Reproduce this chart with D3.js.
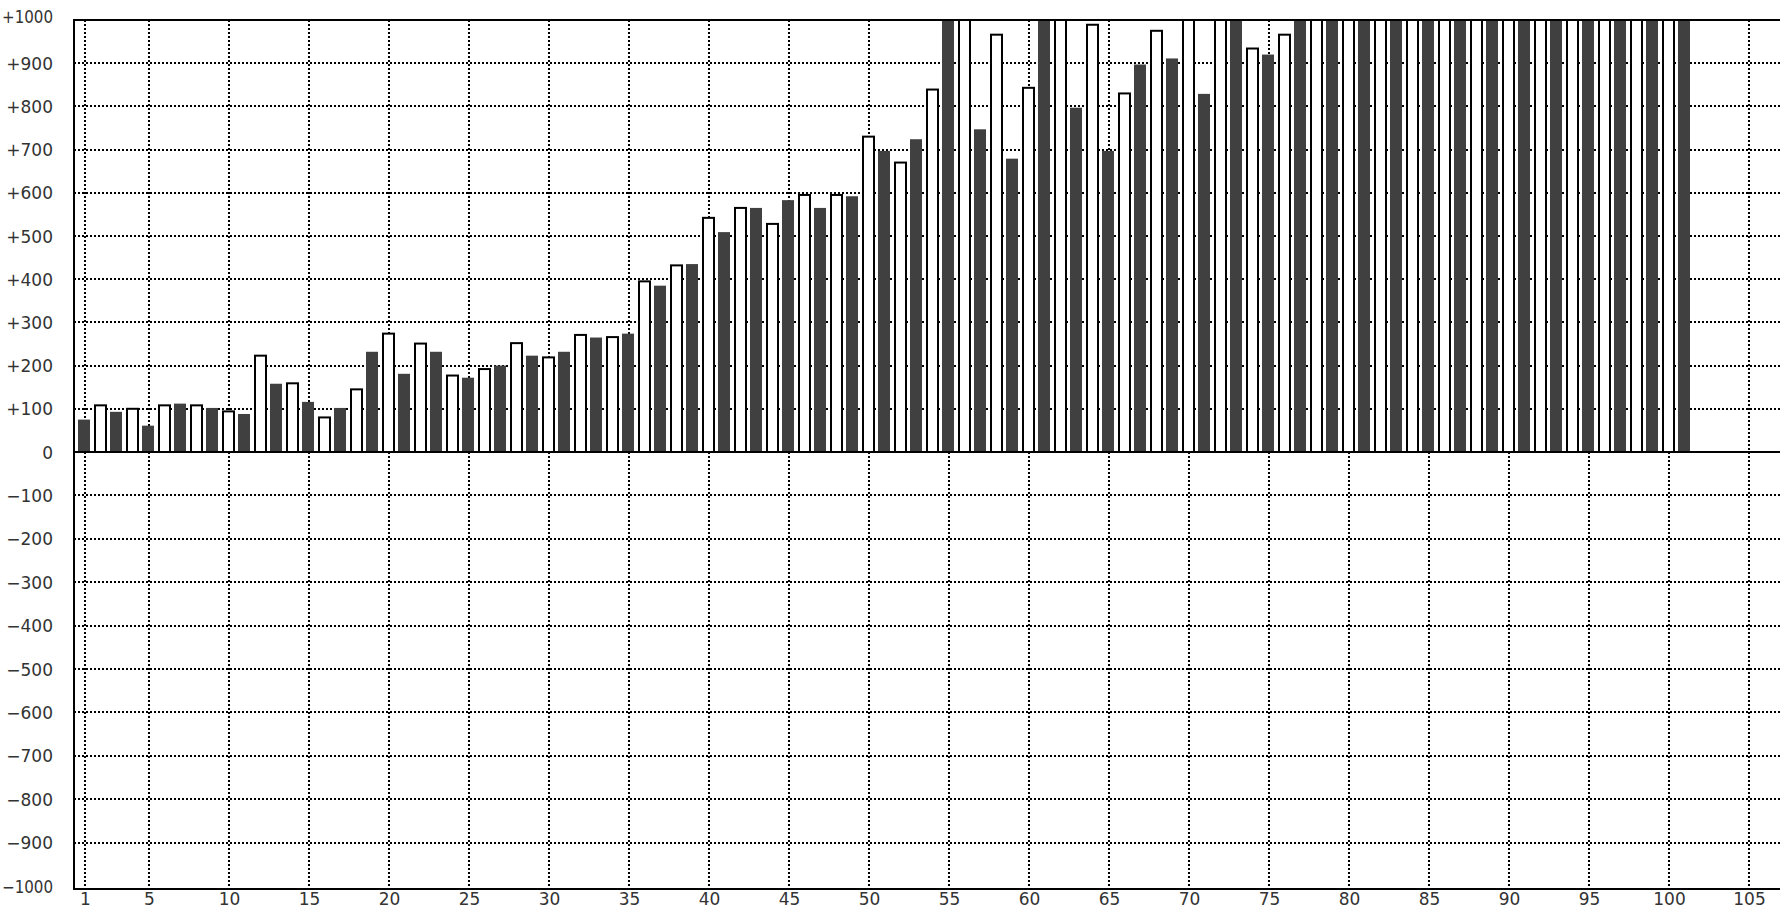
<!DOCTYPE html>
<html>
<head>
<meta charset="utf-8">
<script src="https://cdn.jsdelivr.net/npm/d3@7"></script>
<style>
  html, body { margin: 0; padding: 0; background: #ffffff; }
  svg { display: block; }
</style>
</head>
<body>
<svg id="chart" width="1780" height="908"></svg>
<script>
// ---- data ----
const categories = d3.range(1, 102);
const values = [
  75, 108, 93, 100, 61, 108, 112, 108, 102, 94,
  88, 223, 158, 159, 116, 80, 102, 145, 232, 274,
  181, 251, 232, 177, 172, 192, 200, 252, 223, 219,
  232, 271, 265, 266, 274, 395, 385, 432, 435, 542,
  509, 565, 565, 528, 583, 595, 565, 595, 592, 730,
  697, 670, 724, 839, 1000, 1000, 747, 966, 679, 843,
  1000, 1000, 797, 989, 697, 830, 897, 975, 911, 1000,
  829, 1000, 1000, 934, 920, 966, 1000, 1000, 1000, 1000,
  1000, 1000, 1000, 1000, 1000, 1000, 1000, 1000, 1000, 1000,
  1000, 1000, 1000, 1000, 1000, 1000, 1000, 1000, 1000, 1000,
  1000
];
const xTickValues = [1, 5, 10, 15, 20, 25, 30, 35, 40, 45, 50, 55, 60, 65, 70, 75, 80, 85, 90, 95, 100, 105];
const yTickValues = [1000, 900, 800, 700, 600, 500, 400, 300, 200, 100, 0, -100, -200, -300, -400, -500, -600, -700, -800, -900, -1000];
const yGridValues = [900, 800, 700, 600, 500, 400, 300, 200, 100, -100, -200, -300, -400, -500, -600, -700, -800, -900];

// ---- layout ----
const W = 1780, H = 908;
const plotLeft = 74, plotTop = 20, plotBottom = 889;
const svg = d3.select("#chart");
svg.append("rect").attr("width", W).attr("height", H).attr("fill", "#fff");

const x = d3.scaleLinear().domain([1, 105]).range([85, 85 + 104 * 16]);
const y = d3.scaleLinear().domain([-1000, 0, 1000]).range([886, 452, plotTop]);

svg.append("defs").append("clipPath").attr("id", "plotclip")
  .append("rect").attr("x", plotLeft).attr("y", plotTop).attr("width", W - plotLeft).attr("height", plotBottom - plotTop);

const plot = svg.append("g").attr("clip-path", "url(#plotclip)");

// grid
plot.append("g").selectAll("line.h").data(yGridValues).join("line")
  .attr("x1", plotLeft).attr("x2", W)
  .attr("y1", d => Math.round(y(d))).attr("y2", d => Math.round(y(d)))
  .attr("stroke", "#000").attr("stroke-width", 2).attr("stroke-dasharray", "2,2");
plot.append("g").selectAll("line.v").data(xTickValues).join("line")
  .attr("x1", d => x(d)).attr("x2", d => x(d))
  .attr("y1", plotTop).attr("y2", plotBottom)
  .attr("stroke", "#000").attr("stroke-width", 2).attr("stroke-dasharray", "2,2");

// bars
const bars = categories.map((c, i) => ({ c, v: values[i], dark: c % 2 === 1 }));
plot.append("g").selectAll("rect.dark").data(bars.filter(d => d.dark)).join("rect")
  .attr("x", d => x(d.c) - 7).attr("width", 12)
  .attr("y", d => y(d.v)).attr("height", d => y(0) - y(d.v))
  .attr("fill", "#404040");
plot.append("g").selectAll("rect.white").data(bars.filter(d => !d.dark)).join("rect")
  .attr("x", d => x(d.c) - 6).attr("width", 11)
  .attr("y", d => y(d.v)).attr("height", d => y(0) - y(d.v))
  .attr("fill", "#fff").attr("stroke", "#000").attr("stroke-width", 2);

// zero line and frame
svg.append("line").attr("x1", plotLeft).attr("x2", W).attr("y1", y(0)).attr("y2", y(0))
  .attr("stroke", "#000").attr("stroke-width", 2);
svg.append("line").attr("x1", plotLeft - 1).attr("x2", W).attr("y1", plotTop).attr("y2", plotTop)
  .attr("stroke", "#000").attr("stroke-width", 2);
svg.append("line").attr("x1", plotLeft - 1).attr("x2", W).attr("y1", plotBottom).attr("y2", plotBottom)
  .attr("stroke", "#000").attr("stroke-width", 2);
svg.append("line").attr("x1", plotLeft).attr("x2", plotLeft).attr("y1", plotTop - 1).attr("y2", plotBottom + 1)
  .attr("stroke", "#000").attr("stroke-width", 2);

// axes labels
const fmt = d => d > 0 ? "+" + d : (d < 0 ? "\u2212" + Math.abs(d) : "0");
const yAxis = svg.append("g").attr("transform", "translate(53,0)")
  .call(d3.axisLeft(y).tickValues(yTickValues).tickFormat(fmt).tickSize(0).tickPadding(0));
yAxis.select(".domain").remove();
yAxis.selectAll("text").attr("dy", "0.36em");
// the widest labels are squeezed slightly so they stay inside the picture
yAxis.selectAll(".tick text").filter(d => Math.abs(d) === 1000)
  .attr("textLength", 51).attr("lengthAdjust", "spacingAndGlyphs");
yAxis.selectAll(".tick").filter(d => d === 1000).select("text").attr("dy", "0.16em");

const xAxis = svg.append("g").attr("transform", `translate(0,${plotBottom})`)
  .call(d3.axisBottom(x).tickValues(xTickValues).tickFormat(d3.format("d")).tickSize(0).tickPadding(4));
xAxis.select(".domain").remove();

svg.selectAll(".tick text")
  .attr("font-family", "'DejaVu Sans', sans-serif")
  .attr("font-size", 17)
  .attr("fill", "#333");
</script>
</body>
</html>
